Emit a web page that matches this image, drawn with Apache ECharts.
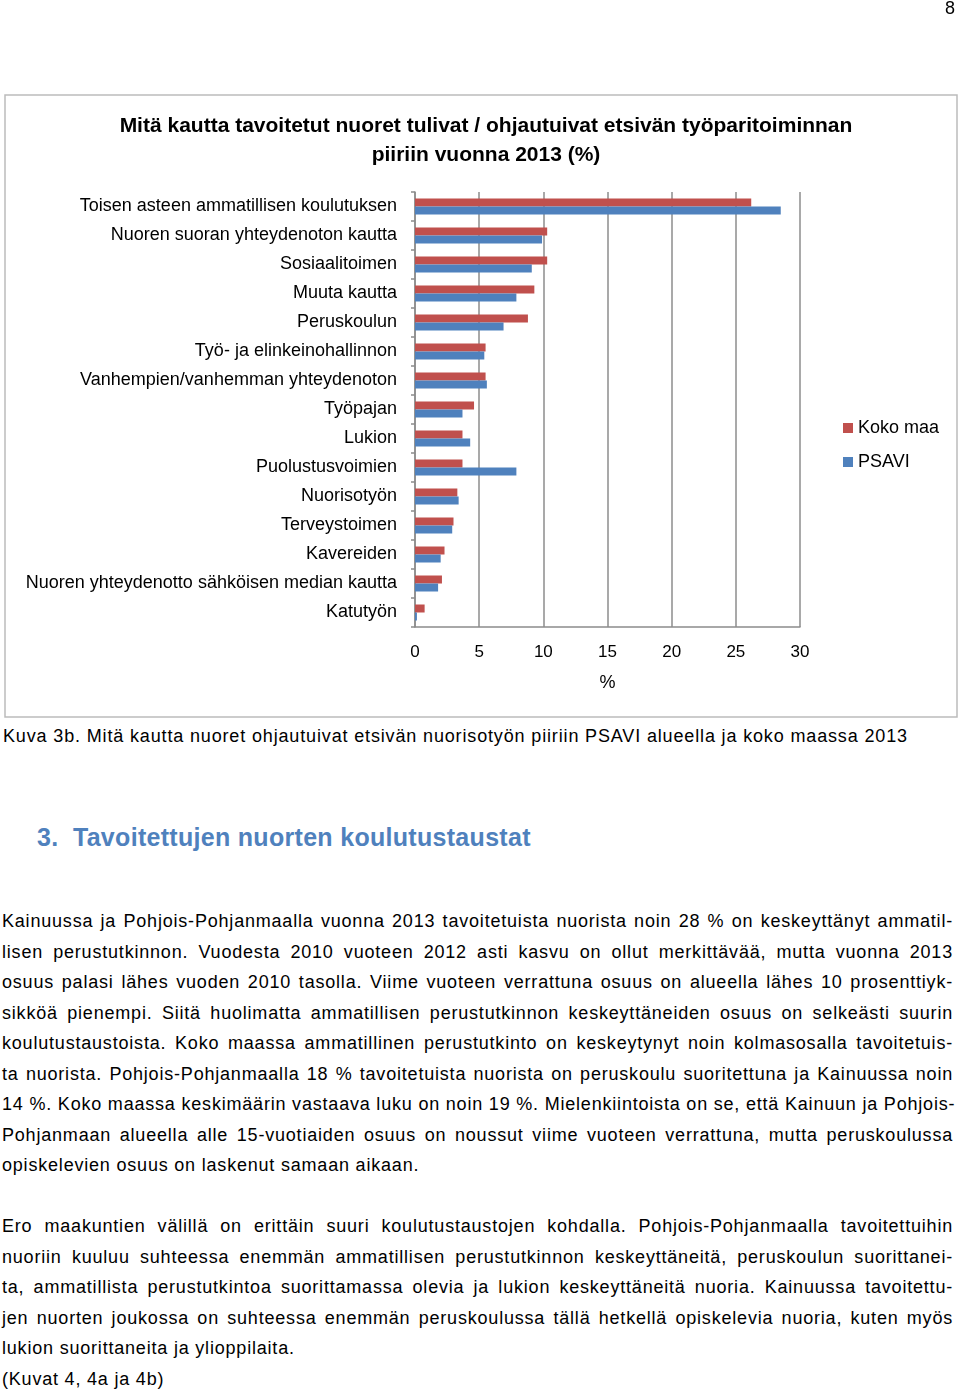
<!DOCTYPE html>
<html>
<head>
<meta charset="utf-8">
<script src="https://cdn.jsdelivr.net/npm/echarts@6/dist/echarts.min.js"></script>
<style>
  html, body { margin: 0; padding: 0; background: #fff; }
  body { width: 960px; height: 1393px; position: relative; overflow: hidden; font-family: "Liberation Sans", Arial, sans-serif; color: #000; }
  #chart { position: absolute; left: 0; top: 0; width: 960px; height: 720px; }
  .t { position: absolute; white-space: nowrap; font-size: 18px; line-height: 22px; letter-spacing: 0.8px; }
  .j { left: 2px; width: 951px; text-align: justify; text-align-last: justify; }
  .l { left: 2px; }
  #pg { right: 5px; top: -3px; letter-spacing: 0; }
  #cap { left: 3px; top: 725px; letter-spacing: 0.85px; }
  #head { left: 37px; top: 822px; font-size: 25px; line-height: 30px; font-weight: bold; color: #4f81bd; letter-spacing: 0.3px; }
</style>
</head>
<body>
<div id="chart"></div>
<div id="pg" class="t">8</div>
<div id="cap" class="t">Kuva 3b. Mitä kautta nuoret ohjautuivat etsivän nuorisotyön piiriin PSAVI alueella ja koko maassa 2013</div>
<div id="head" class="t">3.&nbsp;&nbsp;Tavoitettujen nuorten koulutustaustat</div>
<div id="text"></div>
<script>
var categories = [
  'Toisen asteen ammatillisen koulutuksen',
  'Nuoren suoran yhteydenoton kautta',
  'Sosiaalitoimen',
  'Muuta kautta',
  'Peruskoulun',
  'Työ- ja elinkeinohallinnon',
  'Vanhempien/vanhemman yhteydenoton',
  'Työpajan',
  'Lukion',
  'Puolustusvoimien',
  'Nuorisotyön',
  'Terveystoimen',
  'Kavereiden',
  'Nuoren yhteydenotto sähköisen median kautta',
  'Katutyön'
];
var kokoMaa = [26.2, 10.3, 10.3, 9.3, 8.8, 5.5, 5.5, 4.6, 3.7, 3.7, 3.3, 3.0, 2.3, 2.1, 0.75];
var psavi   = [28.5, 9.9, 9.1, 7.9, 6.9, 5.4, 5.6, 3.7, 4.3, 7.9, 3.4, 2.9, 2.0, 1.8, 0.15];
var seriesNames = ['Koko maa', 'PSAVI'];
var titleText = 'Mitä kautta tavoitetut nuoret tulivat / ohjautuivat etsivän työparitoiminnan\npiiriin vuonna 2013 (%)';
var axisName = '%';

var para1 = [
  'Kainuussa ja Pohjois-Pohjanmaalla vuonna 2013 tavoitetuista nuorista noin 28 % on keskeyttänyt ammatil-',
  'lisen perustutkinnon. Vuodesta 2010 vuoteen 2012 asti kasvu on ollut merkittävää, mutta vuonna 2013',
  'osuus palasi lähes vuoden 2010 tasolla. Viime vuoteen verrattuna osuus on alueella lähes 10 prosenttiyk-',
  'sikköä pienempi. Siitä huolimatta ammatillisen perustutkinnon keskeyttäneiden osuus on selkeästi suurin',
  'koulutustaustoista. Koko maassa ammatillinen perustutkinto on keskeytynyt noin kolmasosalla tavoitetuis-',
  'ta nuorista. Pohjois-Pohjanmaalla 18 % tavoitetuista nuorista on peruskoulu suoritettuna ja Kainuussa noin',
  '14 %. Koko maassa keskimäärin vastaava luku on noin 19 %. Mielenkiintoista on se, että Kainuun ja Pohjois-',
  'Pohjanmaan alueella alle 15-vuotiaiden osuus on noussut viime vuoteen verrattuna, mutta peruskoulussa',
  'opiskelevien osuus on laskenut samaan aikaan.'
];
var para2 = [
  'Ero maakuntien välillä on erittäin suuri koulutustaustojen kohdalla. Pohjois-Pohjanmaalla tavoitettuihin',
  'nuoriin kuuluu suhteessa enemmän ammatillisen perustutkinnon keskeyttäneitä, peruskoulun suorittanei-',
  'ta, ammatillista perustutkintoa suorittamassa olevia ja lukion keskeyttäneitä nuoria. Kainuussa tavoitettu-',
  'jen nuorten joukossa on suhteessa enemmän peruskoulussa tällä hetkellä opiskelevia nuoria, kuten myös',
  'lukion suorittaneita ja ylioppilaita.',
  '(Kuvat 4, 4a ja 4b)'
];

(function () {
  var host = document.getElementById('text');
  function add(lines, startY, justifyCount) {
    lines.forEach(function (s, i) {
      var d = document.createElement('div');
      d.className = 't ' + (i < justifyCount ? 'j' : 'l');
      d.style.top = (startY + i * 30.5 - 11) + 'px';
      d.textContent = s;
      host.appendChild(d);
    });
  }
  add(para1, 921, para1.length - 1);
  add(para2, 1226, 4);
})();

var chart = echarts.init(document.getElementById('chart'), null, { renderer: 'canvas' });
var font = '"Liberation Sans", Arial, sans-serif';
chart.setOption({
  animation: false,
  backgroundColor: '#fff',
  textStyle: { fontFamily: font },
  graphic: [{
    type: 'rect', z: -1,
    shape: { x: 5, y: 95, width: 952, height: 622 },
    style: { fill: 'none', stroke: '#bcbcbc', lineWidth: 1.5 }
  }],
  title: {
    text: titleText,
    left: 481, top: 107, textAlign: 'center',
    textStyle: { fontFamily: font, fontSize: 21, fontWeight: 'bold', color: '#000', lineHeight: 29 }
  },
  legend: {
    orient: 'vertical', left: 838, top: 414,
    itemWidth: 10, itemHeight: 10, itemGap: 16,
    icon: 'rect',
    data: seriesNames,
    textStyle: { fontFamily: font, fontSize: 18, color: '#000' }
  },
  grid: { left: 415, top: 192, width: 385, height: 435, containLabel: false },
  xAxis: {
    type: 'value', min: 0, max: 30, interval: 5,
    name: axisName, nameLocation: 'middle', nameGap: 47,
    nameTextStyle: { fontFamily: font, fontSize: 18, color: '#000' },
    axisLine: { show: true, lineStyle: { color: '#8c8c8c', width: 1.5 } },
    axisTick: { show: false },
    axisLabel: { fontFamily: font, fontSize: 17, color: '#000', margin: 17 },
    splitLine: { show: true, lineStyle: { color: '#8c8c8c', width: 1.5 } }
  },
  yAxis: {
    type: 'category', data: categories, inverse: true,
    axisLine: { show: true, lineStyle: { color: '#8c8c8c', width: 1.5 } },
    axisTick: { show: true, inside: false, length: 4, alignWithLabel: false, lineStyle: { color: '#8c8c8c', width: 1.5 } },
    axisLabel: { fontFamily: font, fontSize: 18, color: '#000', margin: 18 }
  },
  series: [
    { name: seriesNames[0], type: 'bar', data: kokoMaa, barWidth: 8, barGap: '0%', itemStyle: { color: '#c0504d' } },
    { name: seriesNames[1], type: 'bar', data: psavi, barWidth: 8, barGap: '0%', itemStyle: { color: '#4f81bd' } }
  ]
});
</script>
</body>
</html>
